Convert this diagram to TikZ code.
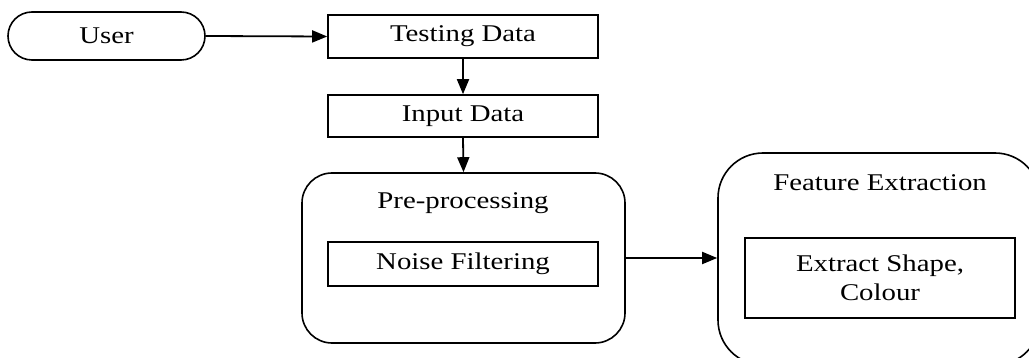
\documentclass[tikz,border=0pt]{standalone}
\usepackage{fontspec}
\setmainfont{Liberation Serif}[FakeStretch=1.2]
\usetikzlibrary{arrows.meta}
\tikzset{
  box/.style={draw, line width=1.6pt, minimum width=270pt, inner sep=0pt, align=center},
  group/.style={draw, line width=1.6pt, inner sep=0pt},
  lbl/.style={inner sep=0pt},
  conn/.style={line width=1.8pt, -{Triangle[length=15pt,width=12pt]}}
}
\begin{document}
\begin{tikzpicture}[x=1pt,y=-1pt, font=\fontsize{24}{29}\selectfont]
\useasboundingbox (0,0) rectangle (1029,358);
\clip (0,0) rectangle (1029,358);
\node[group, minimum width=197pt, minimum height=48pt, rounded corners=24pt] (user) at (106.5,36) {User};
\node[box, minimum height=43pt] (test) at (463,36.5) {Testing Data};
\node[box, minimum height=42pt] (input) at (463,116) {Input Data};
\node[group, minimum width=323pt, minimum height=170pt, rounded corners=30pt] (pre) at (463.5,258) {};
\node[lbl] (prel) at (463,203) {Pre-processing};
\node[box, minimum height=44pt] (noise) at (463,264) {Noise Filtering};
\node[group, minimum width=322pt, minimum height=212pt, rounded corners=45pt] (feat) at (879,259) {};
\node[lbl] (featl) at (880,183) {Feature Extraction};
\node[box, minimum height=80pt] (extr) at (880,278) {Extract Shape,\\Colour};
\draw[conn] (user.east) -- (test.west);
\draw[conn] (test.south) -- (input.north);
\draw[conn] (input.south) -- (pre.north);
\draw[conn] (pre.east) -- (pre.east -| feat.west);
\end{tikzpicture}
\end{document}
